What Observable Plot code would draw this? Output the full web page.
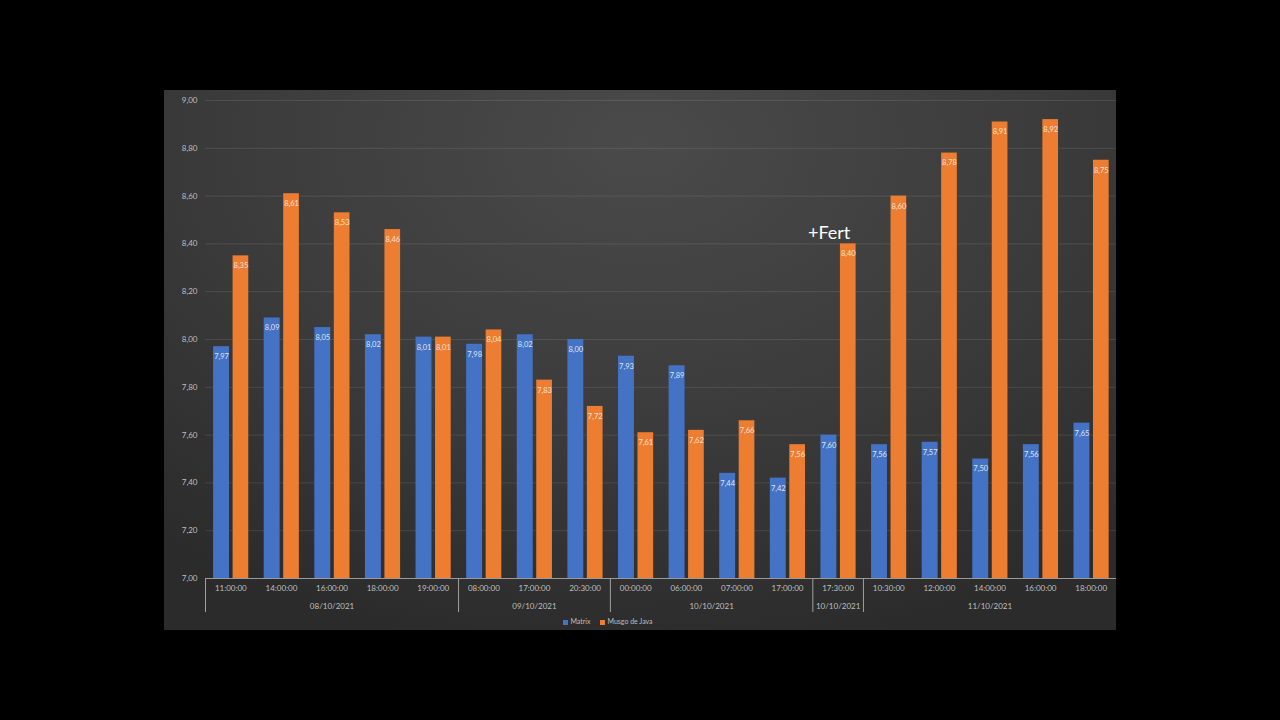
<!DOCTYPE html>
<html><head><meta charset="utf-8">
<script src="https://cdn.jsdelivr.net/npm/d3@7"></script>
<script src="https://cdn.jsdelivr.net/npm/@observablehq/plot@0.6"></script>
<style>
html,body{margin:0;padding:0;background:#000;width:1280px;height:720px;overflow:hidden;font-family:Lato,"Open Sans",sans-serif;}
#panel{position:absolute;left:164px;top:90px;width:952px;height:540px;overflow:hidden;
  background:radial-gradient(ellipse 80% 95% at 50% 10%, #4a4a4a 0%, #3b3b3b 55%, #2b2b2b 100%);}
#chart svg{display:block}
#legend{position:absolute;left:0;width:888px;top:526px;text-align:center;font-size:7px;line-height:10px;color:#bfbfbf;}
#legend span.sw{display:inline-block;width:5px;height:5px;margin-right:2px;vertical-align:middle}
#legend span.it{margin:0 5px}
</style></head><body>
<div id="panel"><div id="chart"></div><div id="legend"></div></div>
<script>
const times = ["11:00:00","14:00:00","16:00:00","18:00:00","19:00:00",
  "08:00:00","17:00:00","20:30:00",
  "00:00:00","06:00:00","07:00:00","17:00:00",
  "17:30:00",
  "10:30:00","12:00:00","14:00:00","16:00:00","18:00:00"];
const dates = ["08/10/2021","09/10/2021","10/10/2021","10/10/2021","11/10/2021"];
const groupSizes = [5,3,4,1,5];
const matrix = [7.97,8.09,8.05,8.02,8.01, 7.98,8.02,8.00, 7.93,7.89,7.44,7.42, 7.60, 7.56,7.57,7.50,7.56,7.65];
const musgo  = [8.35,8.61,8.53,8.46,8.01, 8.04,7.83,7.72, 7.61,7.62,7.66,7.56, 8.40, 8.60,8.78,8.91,8.92,8.75];
const yTicks = [7.0,7.2,7.4,7.6,7.8,8.0,8.2,8.4,8.6,8.8,9.0];
const seriesNames = ["Matrix","Musgo de Java"];
const seriesColors = ["#4472C4","#ED7D31"];
const labelColors = ["#dfe6f5","#fde3d0"];
const annotation = {index: 12, text: "+Fert"};

const fmt = v => d3.format(".2f")(v).replace(".", ",");

// bars table
const bars = [];
times.forEach((t, i) => {
  bars.push({i, s: 0, v: matrix[i], x1: i - 0.34, x2: i - 0.025});
  bars.push({i, s: 1, v: musgo[i], x1: i + 0.045, x2: i + 0.355});
});
// groups
const groups = [];
let start = 0;
groupSizes.forEach((n, g) => {
  groups.push({label: dates[g], start, end: start + n - 1});
  start += n;
});
const boundaries = groups.map(g => g.start - 0.5).concat([times.length - 0.5]);

const W = 952, H = 540;
const plot = Plot.plot({
  width: W, height: H,
  marginLeft: 41, marginRight: 0, marginTop: 10, marginBottom: 52,
  style: {background: "transparent", fontFamily: "Lato, 'Open Sans', sans-serif", color: "#bfbfbf"},
  x: {domain: [-0.5, times.length - 0.5]},
  y: {domain: [7, 9]},
  marks: [
    Plot.ruleY(yTicks.filter(t => t > 7), {stroke: "#ffffff", strokeOpacity: 0.1}),
    Plot.axisY({ticks: yTicks, tickFormat: fmt, tickSize: 0, tickPadding: 8, fontSize: 8, fill: "#bfbfbf", label: null}),
    Plot.rect(bars, {x1: "x1", x2: "x2", y1: 7, y2: "v", fill: d => seriesColors[d.s]}),
    Plot.text(bars, {x: d => (d.x1 + d.x2) / 2, y: "v", text: d => fmt(d.v), dy: 10, fontSize: 7.5, fill: d => labelColors[d.s]}),
    Plot.ruleY([7], {stroke: "#9a9a9a"}),
    Plot.axisX({ticks: d3.range(times.length), tickFormat: i => times[i], tickSize: 0, tickPadding: 7, fontSize: 8, fill: "#bfbfbf", label: null}),
    Plot.text(groups, {x: d => (d.start + d.end) / 2, y: 7, text: "label", dy: 28, fontSize: 8, fill: "#bfbfbf"}),
    Plot.ruleX(boundaries, {stroke: "#a0a0a0", insetTop: 478, insetBottom: -34}),
    Plot.text([annotation], {x: "index", y: d => musgo[d.index], text: "text", dy: -11, dx: -9, fontSize: 18, fill: "#ffffff"})
  ]
});
document.getElementById("chart").appendChild(plot);

const legend = document.getElementById("legend");
legend.innerHTML = seriesNames.map((n, k) =>
  `<span class="it"><span class="sw" style="background:${seriesColors[k]}"></span>${n}</span>`).join("");
</script>
</body></html>
